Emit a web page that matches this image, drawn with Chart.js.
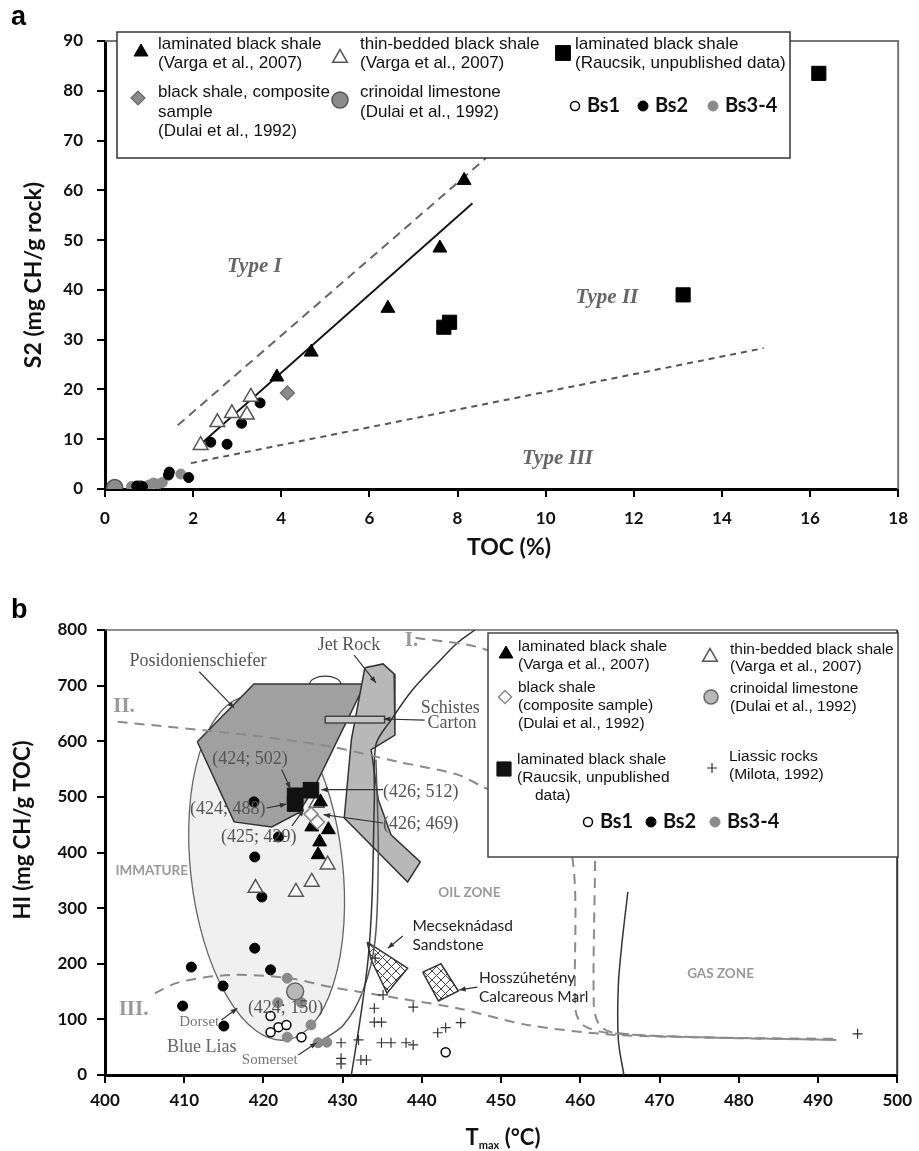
<!DOCTYPE html>
<html>
<head>
<meta charset="utf-8">
<script src="https://cdn.jsdelivr.net/npm/chart.js@4.4.1/dist/chart.umd.min.js"></script>
<style>
  html, body { margin: 0; padding: 0; background: #fff; }
  #wrap { position: relative; width: 919px; height: 1151px; }
  canvas { position: absolute; left: 0; }
  #chart-a { top: 0; }
  #chart-b { top: 575px; }
</style>
</head>
<body>
<div id="wrap">
  <canvas id="chart-a" width="919" height="575"></canvas>
  <canvas id="chart-b" width="919" height="576"></canvas>
</div>
<script>
// ---------- panel a: S2 vs TOC ----------
const tocLam  = [3.9, 4.68, 6.42, 7.6, 8.15];
const s2Lam   = [22.5, 27.5, 36.3, 48.4, 62.0];
const tocThin = [2.17, 2.55, 2.88, 3.22, 3.31];
const s2Thin  = [8.8, 13.4, 15.2, 14.9, 18.5];
const tocComp = [4.14];
const s2Comp  = [19.3];
const tocCrin = [0.22];
const s2Crin  = [0.3];
const tocRau  = [7.69, 7.82, 13.12, 16.2];
const s2Rau   = [32.5, 33.5, 39.0, 83.5];
const tocBs1  = [0.62, 0.9, 1.05];
const s2Bs1   = [0.4, 0.3, 0.5];
const tocBs2  = [0.72, 0.85, 1.44, 1.46, 1.9, 2.4, 2.77, 3.1, 3.52];
const s2Bs2   = [0.6, 0.5, 2.8, 3.4, 2.3, 9.4, 9.0, 13.2, 17.3];
const tocBs34 = [0.6, 0.8, 0.95, 1.0, 1.1, 1.2, 1.3, 1.72];
const s2Bs34  = [0.5, 0.7, 0.4, 0.8, 1.2, 1.0, 1.3, 3.0];
const tocTypeI   = [1.65, 8.65];
const s2TypeI    = [12.8, 66.5];
const tocFit     = [2.22, 8.34];
const s2Fit      = [9.4, 57.4];
const tocTypeIII = [1.95, 14.95];
const s2TypeIII  = [5.2, 28.3];

// ---------- panel b: HI vs Tmax ----------
const tmaxLam  = [427.2, 426.1, 428.2, 427.1, 426.9];
const hiLam    = [491, 446, 441, 419, 396];
const tmaxThin = [419.0, 424.1, 426.1, 428.1, 426.7];
const hiThin   = [336, 329, 347, 378, 489];
const tmaxComp = [426, 426.8];
const hiComp   = [469, 455];
const tmaxCrin = [424];
const hiCrin   = [150];
const tmaxRau  = [424, 424, 426];
const hiRau    = [502, 488, 512];
const tmaxBs1  = [420.9, 421.9, 422.9, 420.9, 424.8, 443];
const hiBs1    = [106, 86, 90, 77, 68, 41];
const tmaxBs2  = [418.8, 421.9, 418.9, 419.8, 418.9, 420.9, 410.9, 414.9, 409.8, 415];
const hiBs2    = [491, 428, 392, 320, 228, 189, 194, 160, 124, 88];
const tmaxBs34 = [423, 421.8, 424.8, 426, 423, 426.9, 428];
const hiBs34   = [174, 130, 130, 90, 68, 58, 59];
const tmaxLias = [429.8, 429.8, 429.8, 432, 432.3, 433, 434, 434, 434.9, 435.1, 434.9, 436.1, 438, 438.9, 438.9, 442, 443, 444.9, 434.1, 495];
const hiLias   = [58, 30, 20, 63, 27, 27, 120, 95, 95, 144, 58, 58, 58, 54, 122, 76, 85, 94, 210, 74];

const tmaxLineI   = [439.2, 448.2, 459.5, 461.7, 461.7, 462.4, 464.2, 474.6, 492.1];
const hiLineI     = [786, 764, 674, 531, 126, 90, 76, 68, 65];
const tmaxLineII  = [401.6, 418.2, 428.6, 437, 444.5, 448, 455.8, 459, 459.4, 460.3, 463.3, 474.6, 492.1];
const hiLineII    = [635, 611, 590, 563, 540, 516, 468, 390, 117, 90, 76, 68, 63];
const tmaxLineIII = [406.3, 409.4, 416, 423.2, 428.6, 437, 444.5, 453.3, 464.5, 474.6, 492.4];
const hiLineIII   = [147, 167, 180, 174, 158, 138, 120, 90, 72, 68, 63];
const tmaxBoundA  = [446.7, 444.5, 442, 438.8, 436.1, 434.2, 434, 433.7, 433.2, 432.2, 431.1];
const hiBoundA    = [800, 777, 741, 692, 638, 594, 495, 315, 207, 99, 0];
const tmaxBoundB  = [434.2, 434.5, 434.1, 432.6, 430.1, 426.9];
const hiBoundB    = [567, 405, 243, 153, 90, 58];
const tmaxBoundC  = [466.0, 465.3, 464.8, 464.8, 465.5];
const hiBoundC    = [329, 243, 162, 63, 0];

const tmaxPosid  = [411.65, 418.8, 432.8, 426.3, 424.4, 421.05, 416.3, 411.65];
const hiPosid    = [599, 703, 703, 513, 471, 446, 455, 599];
const tmaxJet    = [432.8, 435.1, 436.5, 436.6, 433.6, 434.5, 436.1, 439.8, 438.2, 430.2, 431.1, 432.8];
const hiJet      = [732, 739, 721, 611, 585, 495, 432, 383, 347, 462, 603, 732];
const tmaxCarton = [427.8, 435.3, 435.3, 427.8, 427.8];
const hiCarton   = [645, 645, 633, 633, 645];
const tmaxMecsek = [433.1, 438.2, 435.6, 433.6, 433.1];
const hiMecsek   = [239, 192, 147, 207, 239];
const tmaxHossz  = [440.1, 442.4, 444.6, 442.1, 440.1];
const hiHossz    = [185, 200, 151, 133, 185];
const immature   = { t: 420.4, hi: 372, rt: 9.6, rhi: 311 };

// ---------- helpers ----------
const pts = (xs, ys) => xs.map((x, i) => ({ x, y: ys[i] }));

const mk = {
  lam:   { pointStyle: "triangle", pointRadius: 8, pointBackgroundColor: "#000", pointBorderColor: "#000", pointBorderWidth: 1 },
  thin:  { pointStyle: "triangle", pointRadius: 8.5, pointBackgroundColor: "#fff", pointBorderColor: "#555", pointBorderWidth: 1.5 },
  compA: { pointStyle: "rectRot", pointRadius: 7, pointBackgroundColor: "#8a8a8a", pointBorderColor: "#666", pointBorderWidth: 1.2 },
  compB: { pointStyle: "rectRot", pointRadius: 7, pointBackgroundColor: "#fff", pointBorderColor: "#888", pointBorderWidth: 1.5 },
  crinA: { pointStyle: "circle", pointRadius: 8, pointBackgroundColor: "#8c8c8c", pointBorderColor: "#555", pointBorderWidth: 1.5 },
  crinB: { pointStyle: "circle", pointRadius: 8.5, pointBackgroundColor: "#b8b8b8", pointBorderColor: "#666", pointBorderWidth: 1.5 },
  rauA:  { pointStyle: "rect", pointRadius: 10, pointBackgroundColor: "#000", pointBorderColor: "#000", pointBorderWidth: 1 },
  rauB:  { pointStyle: "rect", pointRadius: 11, pointBackgroundColor: "#111", pointBorderColor: "#111", pointBorderWidth: 1 },
  bs1:   { pointStyle: "circle", pointRadius: 4.5, pointBackgroundColor: "#fff", pointBorderColor: "#000", pointBorderWidth: 1.5 },
  bs2:   { pointStyle: "circle", pointRadius: 5, pointBackgroundColor: "#000", pointBorderColor: "#000", pointBorderWidth: 1 },
  bs34:  { pointStyle: "circle", pointRadius: 5, pointBackgroundColor: "#8a8a8a", pointBorderColor: "#8a8a8a", pointBorderWidth: 1 },
  lias:  { pointStyle: "cross", pointRadius: 5, pointBackgroundColor: "#333", pointBorderColor: "#333", pointBorderWidth: 1.2 },
};

function pointSet(data, style) {
  return { data, showLine: false, ...style, pointHoverRadius: style.pointRadius };
}
function lineSet(data, color, width, dash, tension = 0) {
  return { data, showLine: true, pointRadius: 0, borderColor: color, borderWidth: width,
           borderDash: dash, tension, fill: false };
}
function shapeSet(data, fillColor, border) {
  return { data, showLine: true, pointRadius: 0, borderColor: border, borderWidth: 1.5,
           backgroundColor: fillColor, fill: "shape", tension: 0 };
}

function marker(ctx, style, x, y) {
  ctx.save();
  ctx.fillStyle = style.pointBackgroundColor;
  ctx.strokeStyle = style.pointBorderColor;
  ctx.lineWidth = style.pointBorderWidth;
  Chart.helpers.drawPoint(ctx, { pointStyle: style.pointStyle, radius: style.pointRadius,
    rotation: 0, borderWidth: style.pointBorderWidth }, x, y);
  ctx.restore();
}

function text(ctx, s, x, y, font, color, align = "left") {
  ctx.save();
  ctx.font = font;
  ctx.fillStyle = color;
  ctx.textAlign = align;
  ctx.textBaseline = "middle";
  ctx.fillText(s, x, y);
  ctx.restore();
}

function vtext(ctx, s, x, y, font, color) {
  ctx.save();
  ctx.translate(x, y);
  ctx.rotate(-Math.PI / 2);
  text(ctx, s, 0, 0, font, color, "center");
  ctx.restore();
}

function arrow(ctx, x1, y1, x2, y2, color) {
  ctx.save();
  ctx.strokeStyle = color;
  ctx.fillStyle = color;
  ctx.lineWidth = 1.2;
  ctx.beginPath();
  ctx.moveTo(x1, y1);
  ctx.lineTo(x2, y2);
  ctx.stroke();
  const a = Math.atan2(y2 - y1, x2 - x1), h = 7;
  ctx.beginPath();
  ctx.moveTo(x2, y2);
  ctx.lineTo(x2 - h * Math.cos(a - 0.38), y2 - h * Math.sin(a - 0.38));
  ctx.lineTo(x2 - h * Math.cos(a + 0.38), y2 - h * Math.sin(a + 0.38));
  ctx.closePath();
  ctx.fill();
  ctx.restore();
}

function makeHatch() {
  const c = document.createElement("canvas");
  c.width = 9; c.height = 9;
  const g = c.getContext("2d");
  g.fillStyle = "#fff";
  g.fillRect(0, 0, 9, 9);
  g.strokeStyle = "#444";
  g.lineWidth = 1;
  g.beginPath();
  g.moveTo(0, 0); g.lineTo(9, 9);
  g.moveTo(9, 0); g.lineTo(0, 9);
  g.stroke();
  return g.createPattern(c, "repeat");
}

const TICK_FONT = { family: "Lato", weight: "bold", size: 17 };

function axes(xMin, xMax, xStep, yMin, yMax, yStep, xHeight, yPad, xPad) {
  return {
    x: {
      type: "linear", min: xMin, max: xMax,
      afterFit: s => { s.height = xHeight; },
      ticks: { stepSize: xStep, color: "#111", font: TICK_FONT, padding: xPad, maxRotation: 0 },
      grid: { drawOnChartArea: false, drawTicks: true, tickLength: 8, color: "#000", lineWidth: 2 },
      border: { color: "#000", width: 3 },
    },
    y: {
      type: "linear", min: yMin, max: yMax,
      afterFit: s => { s.width = 105; },
      ticks: { stepSize: yStep, color: "#111", font: TICK_FONT, padding: yPad },
      grid: { drawOnChartArea: false, drawTicks: true, tickLength: 8, color: "#000", lineWidth: 2 },
      border: { color: "#000", width: 3 },
    },
  };
}

const baseOptions = {
  responsive: false,
  animation: false,
  events: [],
  plugins: { legend: { display: false }, tooltip: { enabled: false } },
};

// ---------- chart a ----------
const panelA = {
  id: "panelA",
  beforeDatasetsDraw(chart) {
    const { ctx, chartArea: a } = chart;
    ctx.save();
    ctx.strokeStyle = "#777";
    ctx.lineWidth = 2;
    ctx.beginPath();
    ctx.moveTo(a.left, a.top);
    ctx.lineTo(a.right, a.top);
    ctx.lineTo(a.right, a.bottom);
    ctx.stroke();
    ctx.restore();
  },
  afterDraw(chart) {
    const { ctx, scales: { x, y } } = chart;
    const P = (vx, vy) => [x.getPixelForValue(vx), y.getPixelForValue(vy)];
    const typeFont = "italic bold 21px 'Liberation Serif'";
    text(ctx, "Type I", ...P(3.39, 44.6), typeFont, "#666", "center");
    text(ctx, "Type II", ...P(11.39, 38.4), typeFont, "#666", "center");
    text(ctx, "Type III", ...P(10.27, 6.2), typeFont, "#666", "center");

    text(ctx, "a", 11, 18, "bold 27px 'Liberation Sans'", "#000");
    vtext(ctx, "S2 (mg CH/g rock)", 34, 275, "bold 23px Lato", "#111");
    text(ctx, "TOC (%)", 509, 548, "bold 23px Lato", "#111", "center");

    // legend
    ctx.save();
    ctx.fillStyle = "#fff";
    ctx.fillRect(117, 32, 673, 126);
    ctx.strokeStyle = "#333";
    ctx.lineWidth = 1.5;
    ctx.strokeRect(117, 32, 673, 126);
    ctx.restore();
    const lf = "17px 'Liberation Sans'";
    marker(ctx, mk.lam, 141, 52);
    text(ctx, "laminated black shale", 158, 44, lf, "#111");
    text(ctx, "(Varga et al., 2007)", 158, 63, lf, "#111");
    marker(ctx, mk.thin, 340, 58);
    text(ctx, "thin-bedded black shale", 360, 44, lf, "#111");
    text(ctx, "(Varga et al., 2007)", 360, 63, lf, "#111");
    marker(ctx, { ...mk.rauA, pointRadius: 10.5 }, 563, 53);
    text(ctx, "laminated black shale", 575, 44, lf, "#111");
    text(ctx, "(Raucsik, unpublished data)", 575, 63, lf, "#111");
    marker(ctx, mk.compA, 138, 98);
    text(ctx, "black shale, composite", 158, 92, lf, "#111");
    text(ctx, "sample", 158, 112, lf, "#111");
    text(ctx, "(Dulai et al., 1992)", 158, 131, lf, "#111");
    marker(ctx, mk.crinA, 340, 100);
    text(ctx, "crinoidal limestone", 360, 92, lf, "#111");
    text(ctx, "(Dulai et al., 1992)", 360, 112, lf, "#111");
    const bf = "bold 20px Lato";
    marker(ctx, mk.bs1, 575, 106);
    text(ctx, "Bs1", 587, 106, bf, "#111");
    marker(ctx, mk.bs2, 643, 106);
    text(ctx, "Bs2", 655, 106, bf, "#111");
    marker(ctx, mk.bs34, 713, 106);
    text(ctx, "Bs3-4", 725, 106, bf, "#111");
  },
};

new Chart(document.getElementById("chart-a"), {
  type: "scatter",
  data: {
    datasets: [
      pointSet(pts(tocComp, s2Comp), mk.compA),
      pointSet(pts(tocLam, s2Lam), mk.lam),
      pointSet(pts(tocThin, s2Thin), mk.thin),
      pointSet(pts(tocRau, s2Rau), mk.rauA),
      pointSet(pts(tocBs2, s2Bs2), mk.bs2),
      pointSet(pts(tocBs34, s2Bs34), mk.bs34),
      pointSet(pts(tocBs1, s2Bs1), mk.bs1),
      pointSet(pts(tocCrin, s2Crin), mk.crinA),
      lineSet(pts(tocFit, s2Fit), "#111", 1.8, []),
      lineSet(pts(tocTypeI, s2TypeI), "#666", 2, [9, 6]),
      lineSet(pts(tocTypeIII, s2TypeIII), "#555", 2, [6, 5]),
    ],
  },
  options: {
    ...baseOptions,
    layout: { padding: { left: 0, right: 12, top: 41, bottom: 0 } },
    scales: axes(0, 18, 2, 0, 90, 10, 86, 14, 11),
  },
  plugins: [panelA],
});

// ---------- chart b ----------
const panelB = {
  id: "panelB",
  beforeDatasetsDraw(chart) {
    const { ctx, chartArea: a, scales: { x, y } } = chart;
    ctx.save();
    ctx.strokeStyle = "#666";
    ctx.lineWidth = 1.5;
    ctx.beginPath();
    ctx.moveTo(a.left, a.top);
    ctx.lineTo(a.right, a.top);
    ctx.stroke();
    ctx.strokeStyle = "#333";
    ctx.lineWidth = 2;
    ctx.beginPath();
    ctx.moveTo(a.right, a.top);
    ctx.lineTo(a.right, a.bottom);
    ctx.stroke();

    // immature ellipse
    const cx = x.getPixelForValue(immature.t), cy = y.getPixelForValue(immature.hi);
    const rx = x.getPixelForValue(immature.t + immature.rt) - cx;
    const ry = y.getPixelForValue(immature.hi) - y.getPixelForValue(immature.hi + immature.rhi);
    ctx.beginPath();
    ctx.ellipse(cx, cy, rx, ry, -0.11, 0, Math.PI * 2);
    ctx.fillStyle = "#f0f0f0";
    ctx.fill();
    ctx.strokeStyle = "#666";
    ctx.lineWidth = 1.3;
    ctx.stroke();

    // small arc above the Posidonienschiefer field
    const bx = x.getPixelForValue(427.8), by = y.getPixelForValue(703);
    const brx = x.getPixelForValue(429.75) - bx, bry = by - y.getPixelForValue(717);
    ctx.beginPath();
    ctx.ellipse(bx, by, brx, bry, 0, Math.PI, Math.PI * 2);
    ctx.strokeStyle = "#333";
    ctx.lineWidth = 1.2;
    ctx.stroke();
    ctx.restore();
  },
  afterDraw(chart) {
    const { ctx, scales: { x, y } } = chart;
    const P = (vx, vy) => [x.getPixelForValue(vx), y.getPixelForValue(vy)];
    const A = (x1, y1, x2, y2) => arrow(ctx, ...P(x1, y1), ...P(x2, y2), "#333");
    const sf = "18px 'Liberation Serif'";
    const sc = "#555";
    text(ctx, "Posidonienschiefer", ...P(403.1, 743), sf, sc);
    A(411.9, 725, 416.3, 660);
    text(ctx, "Jet Rock", ...P(430.8, 773), sf, sc, "center");
    A(431.45, 755, 434.2, 705);
    text(ctx, "Schistes", ...P(439.85, 660), sf, sc);
    text(ctx, "Carton", ...P(440.7, 633), sf, sc);
    A(440.35, 638, 435.2, 640);
    text(ctx, "(424; 502)", ...P(418.3, 567), sf, sc, "center");
    A(422.3, 549, 423.4, 515);
    text(ctx, "(424; 488)", ...P(415.5, 478), sf, sc, "center");
    A(420.4, 480, 422.9, 487);
    text(ctx, "(425; 429)", ...P(419.4, 428), sf, sc, "center");
    A(423.6, 448, 425.1, 477);
    text(ctx, "(426; 512)", ...P(439.85, 509), sf, sc, "center");
    A(435.1, 513, 427.3, 513);
    text(ctx, "(426; 469)", ...P(439.85, 450), sf, sc, "center");
    A(435.1, 453, 427.6, 468);
    text(ctx, "(424; 150)", ...P(422.8, 120), sf, sc, "center");
    text(ctx, "Dorset", ...P(411.9, 95), "15px 'Liberation Serif'", "#777", "center");
    A(414.7, 99, 416.7, 120);
    text(ctx, "Blue Lias", ...P(412.2, 50), "18px 'Liberation Serif'", "#666", "center");
    text(ctx, "Somerset", ...P(420.8, 27), "15px 'Liberation Serif'", "#777", "center");
    A(424.4, 36, 426.7, 58);
    const rf = "bold 21px 'Liberation Serif'";
    text(ctx, "I.", ...P(438.7, 781), rf, "#999", "center");
    text(ctx, "II.", ...P(402.4, 662), rf, "#999", "center");
    text(ctx, "III.", ...P(403.6, 117), rf, "#999", "center");
    const zf = "bold 13.5px Lato";
    text(ctx, "IMMATURE", ...P(405.9, 367), zf, "#999", "center");
    text(ctx, "OIL ZONE", ...P(446, 327), zf, "#999", "center");
    text(ctx, "GAS ZONE", ...P(477.7, 183), zf, "#999", "center");
    const mf = "15.5px Lato";
    text(ctx, "Mecseknádasd", ...P(438.8, 268), mf, "#222");
    text(ctx, "Sandstone", ...P(438.8, 234), mf, "#222");
    A(437.6, 250, 435.7, 228);
    text(ctx, "Hosszúhetény", ...P(447.2, 174), mf, "#222");
    text(ctx, "Calcareous Marl", ...P(447.2, 140), mf, "#222");
    A(447, 158, 444.7, 153);

    text(ctx, "b", 11, 36, "bold 27px 'Liberation Sans'", "#000");
    vtext(ctx, "HI (mg CH/g TOC)", 23, 255, "bold 22px Lato", "#111");
    ctx.save();
    ctx.font = "bold 22px Lato";
    ctx.fillStyle = "#111";
    ctx.textBaseline = "alphabetic";
    const tw = ctx.measureText("T").width;
    ctx.font = "bold 11px Lato";
    const mw = ctx.measureText("max").width;
    ctx.font = "bold 22px Lato";
    const rw = ctx.measureText(" (°C)").width;
    const sx = 503 - (tw + mw + rw) / 2;
    ctx.fillText("T", sx, 570);
    ctx.font = "bold 11px Lato";
    ctx.fillText("max", sx + tw, 574);
    ctx.font = "bold 22px Lato";
    ctx.fillText(" (°C)", sx + tw + mw, 570);
    ctx.restore();

    // legend
    ctx.save();
    ctx.fillStyle = "#fff";
    ctx.fillRect(488, 58, 410, 224);
    ctx.strokeStyle = "#444";
    ctx.lineWidth = 1.5;
    ctx.strokeRect(488, 58, 410, 224);
    ctx.restore();
    const lf = "15.5px 'Liberation Sans'";
    const lc = "#111";
    marker(ctx, mk.lam, 506, 79);
    text(ctx, "laminated black shale", 518, 72, lf, lc);
    text(ctx, "(Varga et al., 2007)", 518, 90, lf, lc);
    marker(ctx, mk.thin, 710, 82);
    text(ctx, "thin-bedded black shale", 730, 75, lf, lc);
    text(ctx, "(Varga et al., 2007)", 730, 92, lf, lc);
    marker(ctx, { ...mk.compB, pointRadius: 6.5 }, 505, 122);
    text(ctx, "black shale", 518, 113, lf, lc);
    text(ctx, "(composite sample)", 518, 131, lf, lc);
    text(ctx, "(Dulai et al., 1992)", 518, 149, lf, lc);
    marker(ctx, { ...mk.crinB, pointRadius: 7 }, 711, 122);
    text(ctx, "crinoidal limestone", 730, 114, lf, lc);
    text(ctx, "(Dulai et al., 1992)", 730, 132, lf, lc);
    marker(ctx, { ...mk.rauB, pointRadius: 10 }, 504, 194);
    text(ctx, "laminated black shale", 517, 185, lf, lc);
    text(ctx, "(Raucsik, unpublished", 517, 203, lf, lc);
    text(ctx, "data)", 535, 221, lf, lc);
    marker(ctx, mk.lias, 712, 193);
    text(ctx, "Liassic rocks", 729, 182, lf, lc);
    text(ctx, "(Milota, 1992)", 729, 200, lf, lc);
    const bf = "bold 20px Lato";
    marker(ctx, mk.bs1, 588, 247);
    text(ctx, "Bs1", 600, 247, bf, lc);
    marker(ctx, mk.bs2, 651, 247);
    text(ctx, "Bs2", 663, 247, bf, lc);
    marker(ctx, mk.bs34, 715, 247);
    text(ctx, "Bs3-4", 727, 247, bf, lc);
  },
};

const hatch = makeHatch();

new Chart(document.getElementById("chart-b"), {
  type: "scatter",
  data: {
    datasets: [
      pointSet(pts(tmaxRau, hiRau), mk.rauB),
      pointSet(pts(tmaxComp, hiComp), mk.compB),
      pointSet(pts(tmaxLam, hiLam), mk.lam),
      pointSet(pts(tmaxThin, hiThin), mk.thin),
      pointSet(pts(tmaxCrin, hiCrin), mk.crinB),
      pointSet(pts(tmaxBs1, hiBs1), mk.bs1),
      pointSet(pts(tmaxBs2, hiBs2), mk.bs2),
      pointSet(pts(tmaxBs34, hiBs34), mk.bs34),
      pointSet(pts(tmaxLias, hiLias), mk.lias),
      lineSet(pts(tmaxLineI, hiLineI), "#8a8a8a", 2, [10, 7], 0.3),
      lineSet(pts(tmaxLineII, hiLineII), "#8a8a8a", 2, [10, 7], 0.3),
      lineSet(pts(tmaxLineIII, hiLineIII), "#8a8a8a", 2, [10, 7], 0.3),
      lineSet(pts(tmaxBoundA, hiBoundA), "#333", 1.5, [], 0.3),
      lineSet(pts(tmaxBoundB, hiBoundB), "#555", 1.5, [], 0.3),
      lineSet(pts(tmaxBoundC, hiBoundC), "#333", 1.5, [], 0.3),
      shapeSet(pts(tmaxCarton, hiCarton), "#c4c4c4", "#444"),
      shapeSet(pts(tmaxMecsek, hiMecsek), hatch, "#333"),
      shapeSet(pts(tmaxHossz, hiHossz), hatch, "#333"),
      shapeSet(pts(tmaxJet, hiJet), "#b8b8b8", "#333"),
      shapeSet(pts(tmaxPosid, hiPosid), "#a0a0a0", "#333"),
    ],
  },
  options: {
    ...baseOptions,
    layout: { padding: { left: 0, right: 16, top: 55, bottom: 0 } },
    scales: axes(400, 500, 10, 0, 800, 100, 76, 10, 7),
  },
  plugins: [panelB],
});
</script>
</body>
</html>
